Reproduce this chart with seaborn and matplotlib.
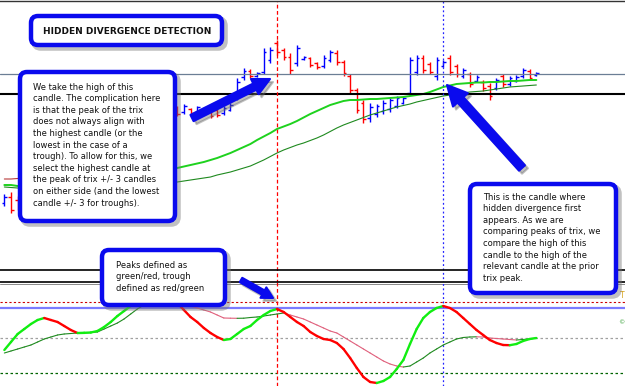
import matplotlib
matplotlib.use("Agg")
import matplotlib.pyplot as plt
import seaborn as sns
import numpy as np
import pandas as pd
from matplotlib.patches import FancyBboxPatch, FancyArrow

sns.set_style("white")
plt.rcParams['font.family'] = ['DejaVu Sans']

# price bars (arbitrary price points)
highs = [74, 76, 72, 78, 82, 84, 88, 93, 96, 100, 104, 108, 112, 118, 120, 125, 130, 132, 138, 142,
         144, 148, 152, 154, 158, 160, 162, 164, 160, 162, 161, 158, 160, 162, 165, 190, 200, 199, 196, 220,
         221, 228, 220, 215, 223, 212, 211, 206, 213, 218, 218, 208, 194, 180, 168, 165, 164, 168, 170, 172,
         171, 211, 213, 213, 206, 211, 208, 213, 204, 200, 196, 193, 188, 185, 190, 194, 192, 193, 200, 199, 196]
lows = [62, 55, 58, 64, 68, 70, 74, 78, 82, 86, 90, 93, 98, 102, 108, 112, 116, 120, 124, 128,
        132, 136, 140, 143, 146, 148, 152, 154, 154, 155, 153, 150, 151, 153, 157, 168, 188, 190, 191, 194,
        205, 213, 208, 194, 202, 208, 201, 199, 200, 206, 203, 192, 175, 155, 145, 146, 151, 154, 156, 160,
        164, 173, 193, 195, 194, 188, 201, 193, 191, 190, 181, 186, 177, 168, 178, 181, 182, 186, 190, 188, 192]
opens = [65, 71, 68, 66, 72, 80, 76, 82, 92, 88, 93, 103, 100, 106, 116, 114, 118, 128, 126, 131,
         140, 138, 142, 151, 148, 157, 160, 156, 159, 156, 155, 157, 158, 155, 158, 172, 191, 197, 192, 196,
         208, 225, 218, 211, 205, 209, 210, 205, 202, 208, 215, 206, 192, 178, 165, 150, 154, 157, 159, 162,
         165, 175, 196, 210, 204, 192, 202, 210, 202, 192, 194, 187, 186, 182, 180, 192, 184, 187, 192, 197, 193]
closes = [71, 58, 62, 75, 79, 73, 85, 90, 85, 98, 102, 96, 110, 115, 111, 122, 127, 122, 135, 139,
          135, 146, 150, 146, 156, 151, 154, 162, 155, 161, 159, 152, 153, 160, 163, 186, 197, 192, 195, 216,
          218, 216, 211, 198, 220, 211, 203, 201, 210, 216, 206, 195, 178, 158, 149, 161, 162, 165, 168, 170,
          170, 208, 210, 198, 196, 208, 206, 196, 194, 198, 184, 191, 180, 172, 188, 184, 190, 191, 198, 190, 195]

# moving averages
ma_fast = [83, 83, 82, 82, 82, 82, 82, 83, 83, 84, 84, 85, 86, 87, 88, 89, 90, 91, 92, 93,
           94, 95, 96, 97, 98, 99, 100, 101.5, 103, 104.5, 106, 108, 110, 112.5, 115, 118, 121, 124, 128, 131.5,
           135, 139, 141.5, 144, 147, 150.5, 154, 157, 160, 163, 165, 167, 168, 168, 168.5, 169, 169, 169.5, 170, 170.5,
           171, 172, 173, 174, 176, 178.5, 181, 182.5, 184, 184.5, 185, 185.5, 185.5, 186, 186, 186.5, 187, 187, 187.5, 188, 188]
ma_slow = [81, 80.5, 80, 80, 80, 80, 80, 80, 80.5, 80.5, 81, 81, 81.5, 81.5, 82, 82, 82.5, 83, 83, 83.5,
           84, 84, 84.5, 85, 85, 85.5, 86, 87, 88, 89, 90, 91, 93, 94.5, 96, 98, 100, 102, 105, 108,
           111.5, 115, 118, 120.5, 123, 125, 127.5, 130, 133, 136.5, 140, 143, 145.5, 148, 150.5, 153, 155, 157, 159, 161,
           162.5, 164, 166, 167.5, 169, 170.5, 172, 173, 174, 175, 176, 176.5, 177, 178, 179, 180, 181, 181.5, 182, 182.5, 183]
ma_long = [89, 89, 89.5, 90, 90.5]

# TRIX indicator and its signal line
trix = [-1.2, -0.4, 0.4, 0.9, 1.4, 1.8, 2.0, 1.8, 1.6, 1.2, 0.8, 0.5, 0.52, 0.55, 0.7, 1.1, 1.6, 2.2, 2.7, 3.2,
        3.7, 4.1, 4.4, 4.5, 4.3, 3.9, 3.5, 2.8, 2.1, 1.6, 1.0, 0.5, 0.1, -0.2, -0.1, 0.4, 0.9, 1.2, 1.8, 2.3,
        2.7, 2.9, 2.6, 2.1, 1.6, 1.2, 0.6, 0.2, -0.1, -0.2, -0.5, -1.1, -2.0, -3.0, -3.9, -4.4, -4.5, -4.3, -3.9, -3.1,
        -2.2, -0.6, 0.9, 2.0, 2.6, 3.0, 3.2, 3.0, 2.6, 2.0, 1.4, 0.8, 0.3, -0.2, -0.5, -0.7, -0.72, -0.6, -0.3, -0.1, 0.0]
signal = [-1.5, -1.3, -1.1, -0.9, -0.7, -0.4, -0.1, 0.1, 0.3, 0.4, 0.45, 0.5, 0.5, 0.55, 0.6, 0.9, 1.2, 1.5, 1.9, 2.4,
          2.9, 3.3, 3.6, 3.8, 3.9, 3.8, 3.6, 3.4, 3.2, 3.0, 2.8, 2.6, 2.3, 2.0, 1.98, 1.97, 1.98, 2.05, 2.1, 2.2,
          2.3, 2.4, 2.5, 2.3, 2.1, 1.9, 1.6, 1.3, 1.0, 0.7, 0.5, 0.1, -0.3, -0.7, -1.1, -1.5, -1.9, -2.3, -2.6, -2.8,
          -2.9, -2.8, -2.4, -2.0, -1.5, -1.1, -0.7, -0.4, -0.1, 0.05, 0.1, 0.12, 0.1, 0.0, -0.05, -0.1, -0.15, -0.2, -0.15, -0.1, 0.0]

peak_bar = 41        # red marker: prior trix peak
signal_bar = 66      # blue marker: hidden divergence bar
level_main_grey = 194
level_main_black = 174
ind_levels = {"upper": 3.6, "signal": 3.0, "zero": 0.0, "lower": -3.5}

title = "HIDDEN DIVERGENCE DETECTION"
note_left = ["We take the high of this", "candle. The complication here", "is that the peak of the trix",
             "does not always align with", "the highest candle (or the", "lowest in the case of a",
             "trough). To allow for this, we", "select the highest candle at",
             "the peak of trix +/- 3 candles", "on either side (and the lowest",
             "candle +/- 3 for troughs)."]
note_mid = ["Peaks defined as", "green/red, trough", "defined as red/green"]
note_right = ["This is the candle where", "hidden divergence first", "appears. As we are",
              "comparing peaks of trix, we", "compare the high of this", "candle to the high of the",
              "relevant candle at the prior", "trix peak."]

W, H = 625, 386
fig = plt.figure(figsize=(W / 100, H / 100), dpi=100)
fig.patch.set_facecolor("white")

x_lim = (-0.654, 93.33)
idx = np.arange(len(highs))

# ---- price panel
ax = fig.add_axes([0, (H - 270) / H, 1, 269 / H])
ax.set_xlim(*x_lim)
ax.set_ylim(-2, 267)
up = np.array(closes) >= np.array(opens)
bar_col = np.where(up, "#0000ff", "#ff0000")
ax.vlines(idx, lows, highs, colors=bar_col, lw=1.0)
ax.hlines(opens, idx - 0.4, idx, colors=bar_col, lw=1.0)
ax.hlines(closes, idx, idx + 0.4, colors=bar_col, lw=1.0)
ma = pd.DataFrame({"bar": idx, "fast": ma_fast, "slow": ma_slow})
sns.lineplot(data=ma, x="bar", y="fast", ax=ax, color="#1ed21e", lw=1.4)
sns.lineplot(data=ma, x="bar", y="slow", ax=ax, color="#1f8a1f", lw=0.8)
sns.lineplot(x=np.arange(len(ma_long)), y=ma_long, ax=ax, color="#b83a3a", lw=0.8)
ax.axhline(level_main_grey, color="#6b7e95", lw=0.9)
ax.axhline(level_main_black, color="black", lw=1.5)
ax.axvline(peak_bar, ymin=-0.05, ymax=1, color="#ff0000", lw=0.9, ls=(0, (3, 2)), clip_on=False)
ax.axvline(signal_bar, ymin=-0.05, ymax=1, color="#2222ff", lw=0.9, ls=(0, (1.5, 2)), clip_on=False)
for s in ["left", "right"]:
    ax.spines[s].set_visible(False)
ax.spines["top"].set_color("#333333")
ax.spines["top"].set_linewidth(1.0)
ax.spines["bottom"].set_color("black")
ax.spines["bottom"].set_linewidth(1.2)
ax.set_xticks([])
ax.set_yticks([])
ax.set_xlabel("")
ax.set_ylabel("")

# ---- indicator panel
ax2 = fig.add_axes([0, 0, 1, (H - 282) / H])
ax2.set_xlim(*x_lim)
ax2.set_ylim(-4.8, 5.6)
ax2.axhline(5.4, color="#8a8a8a", lw=0.7)
ax2.axhline(ind_levels["upper"], color="#cc0000", lw=0.8, ls=(0, (2, 2)))
ax2.axhline(ind_levels["signal"], color="#7b7bff", lw=1.6)
ax2.axhline(ind_levels["zero"], color="#a0a0a0", lw=0.9, ls=(0, (2, 2)))
ax2.axhline(ind_levels["lower"], color="#006400", lw=0.9, ls=(0, (2, 2)))
ax2.axvline(peak_bar, color="#ff0000", lw=0.9, ls=(0, (3, 2)))
ax2.axvline(signal_bar, color="#2222ff", lw=0.9, ls=(0, (1.5, 2)))
for k in range(len(signal) - 1):
    c = "#1f8a1f" if signal[k + 1] >= signal[k] else "#e0607c"
    ax2.plot([k, k + 1], [signal[k], signal[k + 1]], color=c, lw=0.8, solid_capstyle="round")
for k in range(len(trix) - 1):
    c = "#11ee11" if trix[k + 1] >= trix[k] else "#ff0000"
    ax2.plot([k, k + 1], [trix[k], trix[k + 1]], color=c, lw=1.7, solid_capstyle="round")
for s in ["left", "right", "bottom"]:
    ax2.spines[s].set_visible(False)
ax2.spines["top"].set_color("black")
ax2.spines["top"].set_linewidth(1.2)
ax2.set_xticks([])
ax2.set_yticks([])
ax2.text(0.999, 0.87, "T", transform=ax2.transAxes, color="#d4a017", fontsize=5.5, ha="right", va="center")
ax2.text(0.999, 0.61, "©", transform=ax2.transAxes, color="#2a9a2a", fontsize=4.5, ha="right", va="center")

# ---- annotation layer (pixel space)
ov = fig.add_axes([0, 0, 1, 1])
ov.set_xlim(0, W)
ov.set_ylim(H, 0)
ov.axis("off")
ov.patch.set_alpha(0)


def callout(x0, y0, x1, y1):
    sh = FancyBboxPatch((x0 + 3, y0 + 3), x1 - x0, y1 - y0, boxstyle="round,pad=0,rounding_size=7",
                        fc="none", ec="#777777", lw=4, alpha=0.45)
    ov.add_patch(sh)
    bx = FancyBboxPatch((x0, y0), x1 - x0, y1 - y0, boxstyle="round,pad=0,rounding_size=7",
                        fc="white", ec="#0a0aee", lw=3.2)
    ov.add_patch(bx)


def arrow(x0, y0, x1, y1, w, hw, hl):
    for off, col, a in [(3, "#666666", 0.4), (0, "#0a0aee", 1.0)]:
        ov.add_patch(FancyArrow(x0 + off, y0 + off, x1 - x0, y1 - y0, width=w, head_width=hw,
                                head_length=hl, length_includes_head=True, fc=col, ec=col,
                                lw=1.5, joinstyle="round", capstyle="round", alpha=a))


callout(31, 16, 222, 45)
ov.text(127, 31, title, fontsize=6.5, fontweight="bold", ha="center", va="center", color="#111111")

callout(20, 72, 175, 221)
for k, line in enumerate(note_left):
    ov.text(33, 87 + 11.6 * k, line, fontsize=6.0, ha="left", va="center", color="#111111")

callout(102, 250, 225, 305)
for k, line in enumerate(note_mid):
    ov.text(116, 265 + 11.6 * k, line, fontsize=6.0, ha="left", va="center", color="#111111")

callout(470, 184, 616, 293)
for k, line in enumerate(note_right):
    ov.text(483, 197 + 11.6 * k, line, fontsize=6.0, ha="left", va="center", color="#111111")

arrow(192, 118, 270, 79, 7, 17, 17)
arrow(522, 168, 447, 85, 8, 20, 20)
arrow(241, 280, 273, 298, 5, 12, 11)

fig.savefig("out.png", dpi=100, facecolor="white")
